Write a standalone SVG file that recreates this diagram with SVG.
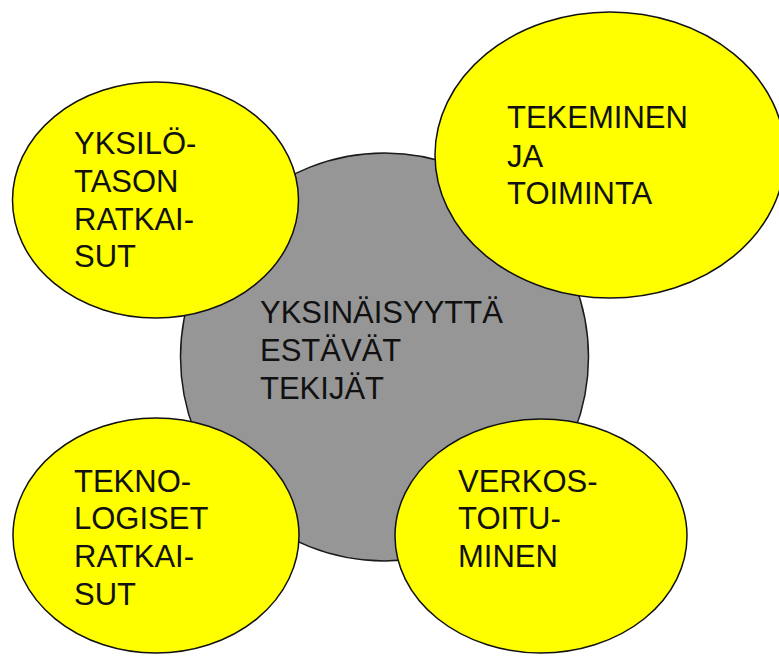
<svg xmlns="http://www.w3.org/2000/svg" width="779" height="657" viewBox="0 0 779 657">
<style>
.bg{fill:#ffffff}
.center{fill:#969696;stroke:#1a1a1a;stroke-width:1.5}
.leaf{fill:#ffff00;stroke:#111111;stroke-width:1.5}
text{font-family:"Liberation Sans",Arial,sans-serif;font-size:31px;fill:#111111}
</style>
<rect class="bg" x="0" y="0" width="779" height="657"/>
<g id="connectors"></g>
<g id="node-center">
<circle class="center" cx="384.5" cy="357" r="204"/>
<text x="260" y="323">YKSINÄISYYTTÄ</text>
<text x="260" y="361">ESTÄVÄT</text>
<text x="260" y="399">TEKIJÄT</text>
</g>
<g id="node-yksilotason">
<ellipse class="leaf" cx="155.5" cy="200" rx="143" ry="118"/>
<text x="74" y="154">YKSILÖ-</text>
<text x="74" y="192">TASON</text>
<text x="74" y="230">RATKAI-</text>
<text x="74" y="267">SUT</text>
</g>
<g id="node-tekeminen">
<ellipse class="leaf" cx="610" cy="155" rx="175" ry="143"/>
<text x="507" y="128">TEKEMINEN</text>
<text x="507" y="167">JA</text>
<text x="507" y="204">TOIMINTA</text>
</g>
<g id="node-teknologiset">
<ellipse class="leaf" cx="156" cy="535.5" rx="143" ry="117.5"/>
<text x="74" y="492">TEKNO-</text>
<text x="74" y="529">LOGISET</text>
<text x="74" y="567">RATKAI-</text>
<text x="74" y="605">SUT</text>
</g>
<g id="node-verkostoituminen">
<ellipse class="leaf" cx="541" cy="536" rx="146" ry="117"/>
<text x="458" y="492">VERKOS-</text>
<text x="458" y="529">TOITU-</text>
<text x="458" y="567">MINEN</text>
</g>
</svg>
